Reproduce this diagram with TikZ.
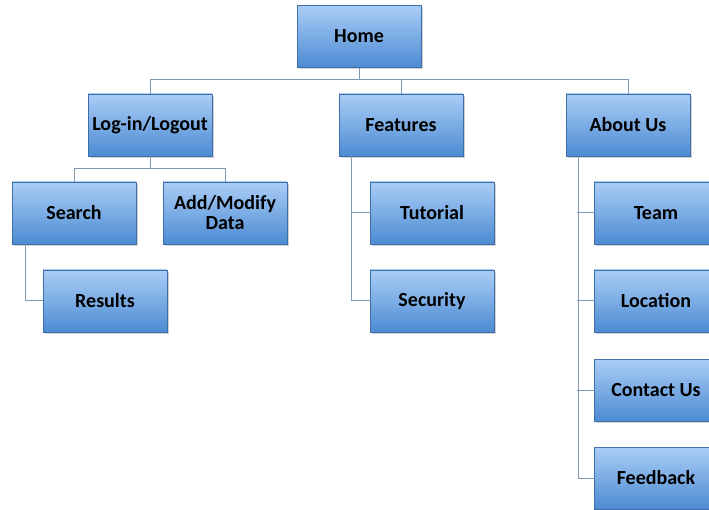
\documentclass[tikz,border=0pt]{standalone}
\usepackage{fontspec}
\setmainfont{Carlito}
\usetikzlibrary{shadows}
\definecolor{boxtop}{HTML}{AACDF6}
\definecolor{boxbot}{HTML}{4C8BD3}
\definecolor{boxline}{HTML}{3D6EA6}
\definecolor{conn}{HTML}{7F9AB4}
\tikzset{
  pagebox/.style={rectangle, draw=boxline, line width=0.8pt,
    top color=boxtop, bottom color=boxbot,
    minimum width=124pt, minimum height=62pt, inner sep=2pt,
    font=\bfseries\fontsize{20}{20}\selectfont, align=center,
    drop shadow={opacity=0.35, shadow xshift=2pt, shadow yshift=-2pt}},
  link/.style={draw=conn, line width=1pt}
}
\begin{document}
\begin{tikzpicture}[x=1pt, y=-1pt]
\useasboundingbox (0,0) rectangle (709,510);
\node[pagebox] (home) at (359,36.5) {Home};
\node[pagebox] (login) at (150,125) {Log-in/Logout};
\node[pagebox] (feat) at (401,125) {Features};
\node[pagebox] (about) at (628,125) {About Us};
\node[pagebox] (search) at (74,213) {Search};
\node[pagebox] (addmod) at (225,213) {Add/Modify\\Data};
\node[pagebox] (results) at (105,301) {Results};
\node[pagebox] (tut) at (432,213) {Tutorial};
\node[pagebox] (sec) at (432,301) {Security};
\node[pagebox] (team) at (656,213) {Team};
\node[pagebox] (loc) at (656,301) {Location};
\node[pagebox] (contact) at (656,390) {Contact Us};
\node[pagebox] (feed) at (656,478) {Feedback};
% connectors
\coordinate (hb) at (359,80);
\draw[link] (home.south) -- (hb);
\draw[link] (login.north) |- (hb);
\draw[link] (about.north) |- (hb);
\draw[link] (feat.north) -- (feat.north |- hb);
\coordinate (lb) at (150,169);
\draw[link] (login.south) -- (lb);
\draw[link] (search.north) |- (lb);
\draw[link] (addmod.north) |- (lb);
\draw[link] ([xshift=-49pt]search.south) |- (results.west);
\draw[link] ([xshift=-50pt]feat.south) |- (sec.west);
\draw[link] (tut.west) -- +(-19,0);
\draw[link] ([xshift=-50pt]about.south) |- (feed.west);
\draw[link] (team.west) -- +(-17,0);
\draw[link] (loc.west) -- +(-17,0);
\draw[link] (contact.west) -- +(-17,0);
\end{tikzpicture}
\end{document}
